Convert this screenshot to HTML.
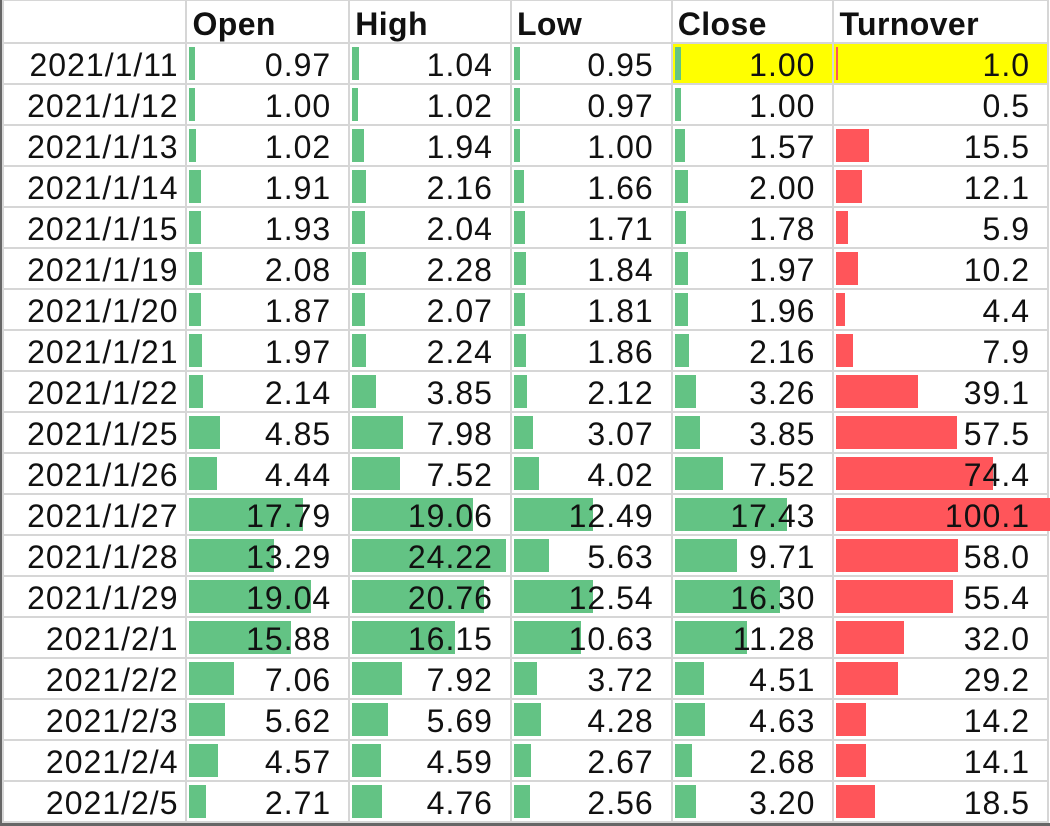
<!DOCTYPE html>
<html><head><meta charset="utf-8"><style>
html,body{margin:0;padding:0;background:#fff;width:1050px;height:826px;overflow:hidden}
body{font-family:"Liberation Sans",sans-serif;color:#111}
#wrap{position:absolute;left:0;top:0;width:1050px;height:826px;border-left:3px solid #666;border-bottom:3px solid #666;box-sizing:border-box}
table{border-collapse:collapse;table-layout:fixed;position:absolute;left:-1px;top:-1px}
td{border:2px solid #d6d6d6;height:39px;padding:0;position:relative;font-size:32px;letter-spacing:1px;text-align:right;padding-right:17px;white-space:nowrap;overflow:visible;line-height:39px}
td.d{padding-right:7px}
td.d{position:relative;top:0}
tr.h td{height:41px;font-weight:bold;text-align:left;padding-left:5px;padding-right:0;letter-spacing:0.4px;line-height:41px}
tr.h td span{position:relative;top:3px}
td i{position:absolute;left:2px;top:3px;height:33px;background:#63c384;z-index:0}
td.t i{background:#ff555a}
td span{position:relative;z-index:1;top:2px}
td.d{padding-top:4px;height:35px;line-height:35px}
td.y{background:#ffff00}
</style></head><body><div id="wrap">
<table>
<colgroup><col style="width:184px"><col style="width:164px"><col style="width:163px"><col style="width:162px"><col style="width:163px"><col style="width:216px"></colgroup>
<tr class="h"><td></td><td><span>Open</span></td><td><span>High</span></td><td><span>Low</span></td><td><span>Close</span></td><td><span>Turnover</span></td></tr>
<tr><td class="d">2021/1/11</td><td><i style="width:6px"></i><span>0.97</span></td><td><i style="width:7px"></i><span>1.04</span></td><td><i style="width:6px"></i><span>0.95</span></td><td class="y"><i style="width:6px"></i><span>1.00</span></td><td class="t y"><i style="width:2px"></i><span>1.0</span></td></tr>
<tr><td class="d">2021/1/12</td><td><i style="width:6px"></i><span>1.00</span></td><td><i style="width:6px"></i><span>1.02</span></td><td><i style="width:6px"></i><span>0.97</span></td><td><i style="width:6px"></i><span>1.00</span></td><td class="t"><span>0.5</span></td></tr>
<tr><td class="d">2021/1/13</td><td><i style="width:7px"></i><span>1.02</span></td><td><i style="width:12px"></i><span>1.94</span></td><td><i style="width:6px"></i><span>1.00</span></td><td><i style="width:10px"></i><span>1.57</span></td><td class="t"><i style="width:33px"></i><span>15.5</span></td></tr>
<tr><td class="d">2021/1/14</td><td><i style="width:12px"></i><span>1.91</span></td><td><i style="width:14px"></i><span>2.16</span></td><td><i style="width:10px"></i><span>1.66</span></td><td><i style="width:13px"></i><span>2.00</span></td><td class="t"><i style="width:26px"></i><span>12.1</span></td></tr>
<tr><td class="d">2021/1/15</td><td><i style="width:12px"></i><span>1.93</span></td><td><i style="width:13px"></i><span>2.04</span></td><td><i style="width:11px"></i><span>1.71</span></td><td><i style="width:11px"></i><span>1.78</span></td><td class="t"><i style="width:12px"></i><span>5.9</span></td></tr>
<tr><td class="d">2021/1/19</td><td><i style="width:13px"></i><span>2.08</span></td><td><i style="width:14px"></i><span>2.28</span></td><td><i style="width:12px"></i><span>1.84</span></td><td><i style="width:13px"></i><span>1.97</span></td><td class="t"><i style="width:22px"></i><span>10.2</span></td></tr>
<tr><td class="d">2021/1/20</td><td><i style="width:12px"></i><span>1.87</span></td><td><i style="width:13px"></i><span>2.07</span></td><td><i style="width:11px"></i><span>1.81</span></td><td><i style="width:13px"></i><span>1.96</span></td><td class="t"><i style="width:9px"></i><span>4.4</span></td></tr>
<tr><td class="d">2021/1/21</td><td><i style="width:13px"></i><span>1.97</span></td><td><i style="width:14px"></i><span>2.24</span></td><td><i style="width:12px"></i><span>1.86</span></td><td><i style="width:14px"></i><span>2.16</span></td><td class="t"><i style="width:17px"></i><span>7.9</span></td></tr>
<tr><td class="d">2021/1/22</td><td><i style="width:14px"></i><span>2.14</span></td><td><i style="width:24px"></i><span>3.85</span></td><td><i style="width:13px"></i><span>2.12</span></td><td><i style="width:21px"></i><span>3.26</span></td><td class="t"><i style="width:82px"></i><span>39.1</span></td></tr>
<tr><td class="d">2021/1/25</td><td><i style="width:31px"></i><span>4.85</span></td><td><i style="width:51px"></i><span>7.98</span></td><td><i style="width:19px"></i><span>3.07</span></td><td><i style="width:25px"></i><span>3.85</span></td><td class="t"><i style="width:121px"></i><span>57.5</span></td></tr>
<tr><td class="d">2021/1/26</td><td><i style="width:28px"></i><span>4.44</span></td><td><i style="width:48px"></i><span>7.52</span></td><td><i style="width:25px"></i><span>4.02</span></td><td><i style="width:48px"></i><span>7.52</span></td><td class="t"><i style="width:157px"></i><span>74.4</span></td></tr>
<tr><td class="d">2021/1/27</td><td><i style="width:114px"></i><span>17.79</span></td><td><i style="width:121px"></i><span>19.06</span></td><td><i style="width:79px"></i><span>12.49</span></td><td><i style="width:112px"></i><span>17.43</span></td><td class="t"><i style="width:214px"></i><span>100.1</span></td></tr>
<tr><td class="d">2021/1/28</td><td><i style="width:85px"></i><span>13.29</span></td><td><i style="width:154px"></i><span>24.22</span></td><td><i style="width:35px"></i><span>5.63</span></td><td><i style="width:62px"></i><span>9.71</span></td><td class="t"><i style="width:122px"></i><span>58.0</span></td></tr>
<tr><td class="d">2021/1/29</td><td><i style="width:122px"></i><span>19.04</span></td><td><i style="width:132px"></i><span>20.76</span></td><td><i style="width:79px"></i><span>12.54</span></td><td><i style="width:105px"></i><span>16.30</span></td><td class="t"><i style="width:117px"></i><span>55.4</span></td></tr>
<tr><td class="d">2021/2/1</td><td><i style="width:102px"></i><span>15.88</span></td><td><i style="width:103px"></i><span>16.15</span></td><td><i style="width:67px"></i><span>10.63</span></td><td><i style="width:72px"></i><span>11.28</span></td><td class="t"><i style="width:68px"></i><span>32.0</span></td></tr>
<tr><td class="d">2021/2/2</td><td><i style="width:45px"></i><span>7.06</span></td><td><i style="width:50px"></i><span>7.92</span></td><td><i style="width:23px"></i><span>3.72</span></td><td><i style="width:29px"></i><span>4.51</span></td><td class="t"><i style="width:62px"></i><span>29.2</span></td></tr>
<tr><td class="d">2021/2/3</td><td><i style="width:36px"></i><span>5.62</span></td><td><i style="width:36px"></i><span>5.69</span></td><td><i style="width:27px"></i><span>4.28</span></td><td><i style="width:30px"></i><span>4.63</span></td><td class="t"><i style="width:30px"></i><span>14.2</span></td></tr>
<tr><td class="d">2021/2/4</td><td><i style="width:29px"></i><span>4.57</span></td><td><i style="width:29px"></i><span>4.59</span></td><td><i style="width:17px"></i><span>2.67</span></td><td><i style="width:17px"></i><span>2.68</span></td><td class="t"><i style="width:30px"></i><span>14.1</span></td></tr>
<tr><td class="d">2021/2/5</td><td><i style="width:17px"></i><span>2.71</span></td><td><i style="width:30px"></i><span>4.76</span></td><td><i style="width:16px"></i><span>2.56</span></td><td><i style="width:21px"></i><span>3.20</span></td><td class="t"><i style="width:39px"></i><span>18.5</span></td></tr>
</table>
</div></body></html>
